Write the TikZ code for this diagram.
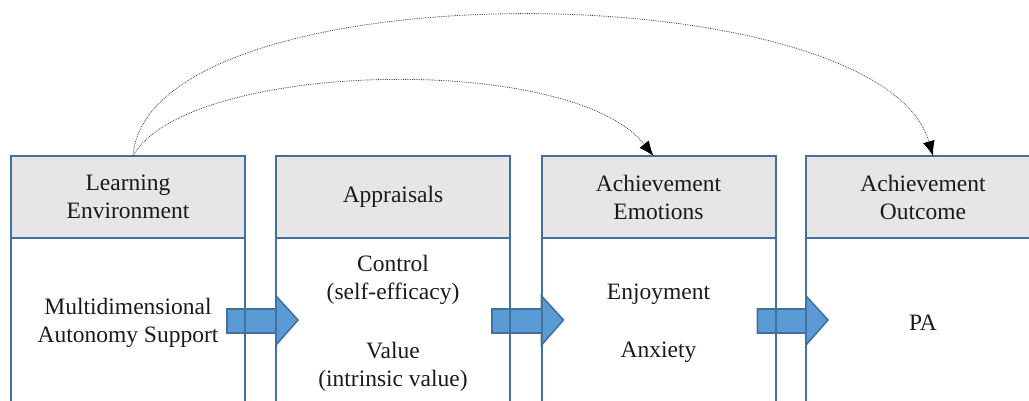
\documentclass[tikz,border=0pt]{standalone}
\usepackage{fontspec}
\setmainfont{Liberation Serif}
\usetikzlibrary{arrows.meta,calc,backgrounds}
\definecolor{boxline}{HTML}{41719C}
\definecolor{headfill}{HTML}{E7E6E6}
\definecolor{flowfill}{HTML}{5B9BD5}
\definecolor{inktext}{HTML}{1A1A1A}
\begin{document}
\begin{tikzpicture}[x=1pt,y=-1pt,
  every node/.style={font=\fontsize{23.5}{28}\selectfont, text=inktext,
    align=center, outer sep=0pt, inner sep=0pt},
  header/.style={draw=boxline, fill=headfill, line width=2pt,
    minimum width=234pt, minimum height=82pt},
  stage/.style={draw=boxline, line width=2pt,
    minimum width=234pt, minimum height=170pt},
  flow/.style={draw=boxline, fill=flowfill, line width=1.6pt, line join=miter},
  link/.style={densely dotted, draw=black!75, line width=0.8pt,
    -{Latex[length=15pt,width=12pt,black]}}]
\useasboundingbox (0,0) rectangle (1029,400);

% stage headers
\node[header] (h1) at (128,197) {Learning\\Environment};
\node[header] (h2) at (393,197) {Appraisals};
\node[header] (h3) at (658.5,197) {Achievement\\Emotions};
\node[header] (h4) at (923,197) {Achievement\\Outcome};

% stage bodies
\node[stage] (b1) at (128,323) {Multidimensional\\Autonomy Support};
\node[stage] (b2) at (393,323) {Control\\(self-efficacy)\\[31pt]Value\\(intrinsic value)};
\node[stage] (b3) at (658.5,323) {Enjoyment\\[30pt]Anxiety};
\node[stage] (b4) at (923,323) {PA};

% block arrows between stages, behind the box outlines
\begin{scope}[on background layer]
\foreach \a/\b in {b1/b2,b2/b3,b3/b4}{
  \draw[flow] ($(\a.east)+(-18,-14)$) -- ($(\b.west)+(0,-14)$)
    -- ($(\b.west)+(0,-27)$) -- ($(\b.west)+(22,-3)$)
    -- ($(\b.west)+(0,22)$) -- ($(\b.west)+(0,10)$)
    -- ($(\a.east)+(-18,10)$) -- cycle;
}
\end{scope}

% direct effects of the learning environment
\draw[link] ([xshift=5pt]h1.north) .. controls +(52,-95) and +(-83,-105) .. ([xshift=-5pt]h3.north);
\draw[link] ([xshift=5pt]h1.north) .. controls +(15,-190) and +(-53,-185) .. ([xshift=10pt]h4.north);
\end{tikzpicture}
\end{document}
